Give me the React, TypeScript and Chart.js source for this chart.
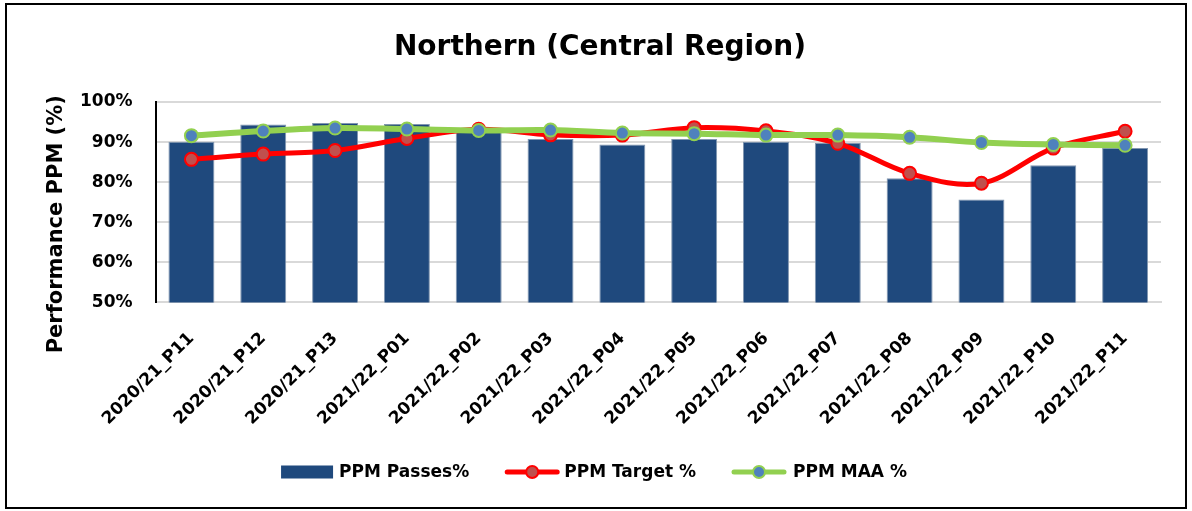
import React, { useEffect, useRef } from "react";
import { Chart, registerables } from "chart.js";

Chart.register(...registerables);

const categories = [
  "2020/21_P11", "2020/21_P12", "2020/21_P13", "2021/22_P01", "2021/22_P02",
  "2021/22_P03", "2021/22_P04", "2021/22_P05", "2021/22_P06", "2021/22_P07",
  "2021/22_P08", "2021/22_P09", "2021/22_P10", "2021/22_P11",
];
const passes = [90.1, 94.4, 94.75, 94.5, 93.0, 90.8, 89.4, 90.8, 90.1, 89.8, 81.0, 75.7, 84.2, 88.5];
const target = [85.7, 87.0, 87.9, 90.9, 93.2, 91.8, 91.75, 93.6, 92.8, 89.7, 82.2, 79.75, 88.5, 92.7];
const maa = [91.6, 92.75, 93.5, 93.25, 92.9, 93.0, 92.25, 92.1, 91.75, 91.75, 91.2, 89.9, 89.4, 89.2];
const yTicks = [50, 60, 70, 80, 90, 100];
const yTitle = "Performance PPM (%)";
const chartTitle = "Northern (Central Region)";

const FONT = "'DejaVu Sans', 'Liberation Sans', sans-serif";
const BAR = "#1F497D";
const RED = "#FF0000";
const RED_FILL = "#C0504D";
const GREEN = "#92D050";
const BLUE_FILL = "#4F81BD";

function drawLineSymbol(g: CanvasRenderingContext2D, x: number, y: number, line: string, fill: string) {
  g.save();
  g.strokeStyle = line;
  g.lineWidth = 5;
  g.lineCap = "round";
  g.beginPath();
  g.moveTo(x + 3, y);
  g.lineTo(x + 53, y);
  g.stroke();
  g.beginPath();
  g.arc(x + 28, y, 6, 0, Math.PI * 2);
  g.fillStyle = fill;
  g.fill();
  g.lineWidth = 2;
  g.strokeStyle = line;
  g.stroke();
  g.restore();
}

const customPlugin = {
  id: "customDecor",
  afterDraw(chart: any) {
    const g: CanvasRenderingContext2D = chart.ctx;
    const area = chart.chartArea;
    // chart title
    g.save();
    g.font = `bold 28px ${FONT}`;
    g.fillStyle = "#000";
    g.textAlign = "center";
    g.textBaseline = "middle";
    g.fillText(chartTitle, 600, 48);
    g.restore();

    // y axis title
    g.save();
    g.font = `bold 21px ${FONT}`;
    g.fillStyle = "#000";
    g.textAlign = "center";
    g.textBaseline = "middle";
    g.translate(57, (area.top + area.bottom) / 2 + 22);
    g.rotate(-Math.PI / 2);
    g.fillText(yTitle, 0, 0);
    g.restore();

    // legend
    const ds = chart.data.datasets;
    g.save();
    g.font = `bold 17px ${FONT}`;
    g.textBaseline = "middle";
    g.textAlign = "left";
    const symW = [52, 56, 56];
    const gap = [6, 4, 6];
    const spacing = 35;
    const widths = ds.map((d: any, i: number) => symW[i] + gap[i] + g.measureText(d.label).width);
    const total = widths.reduce((a: number, b: number) => a + b, 0) + spacing * (ds.length - 1);
    let x = 594 - total / 2;
    const y = 472;
    ds.forEach((d: any, i: number) => {
      if (i === 0) {
        g.fillStyle = BAR;
        g.fillRect(x, y - 6.5, 52, 13);
      } else if (i === 1) {
        drawLineSymbol(g, x, y, RED, RED_FILL);
      } else {
        drawLineSymbol(g, x, y, GREEN, BLUE_FILL);
      }
      g.fillStyle = "#000";
      g.fillText(d.label, x + symW[i] + gap[i], y + 1);
      x += widths[i] + spacing;
    });
    g.restore();
  },
};

export default function App() {
  const ref = useRef<HTMLCanvasElement | null>(null);

  useEffect(() => {
    document.body.style.margin = "0";
    const ctx = ref.current!.getContext("2d")!;
    const chart = new Chart(ctx, {
      type: "bar",
      data: {
        labels: categories,
        datasets: [
          {
            type: "bar",
            label: "PPM Passes%",
            data: passes,
            backgroundColor: BAR,
            borderColor: "#8196B0",
            borderWidth: 1,
            barPercentage: 0.64,
            categoryPercentage: 1,
            order: 3,
          },
          {
            type: "line",
            label: "PPM Target %",
            data: target,
            borderColor: RED,
            borderWidth: 5,
            backgroundColor: RED_FILL,
            pointBackgroundColor: RED_FILL,
            pointBorderColor: RED,
            pointBorderWidth: 2,
            pointRadius: 6.5,
            tension: 0.35,
            order: 2,
          } as any,
          {
            type: "line",
            label: "PPM MAA %",
            data: maa,
            borderColor: GREEN,
            borderWidth: 6,
            backgroundColor: BLUE_FILL,
            pointBackgroundColor: BLUE_FILL,
            pointBorderColor: GREEN,
            pointBorderWidth: 2,
            pointRadius: 6.5,
            tension: 0.35,
            order: 1,
          } as any,
        ],
      },
      plugins: [customPlugin],
      options: {
        animation: false,
        responsive: false,
        layout: { padding: { left: 57, right: 31, top: 102, bottom: 64 } },
        plugins: {
          title: { display: false },
          legend: { display: false },
          tooltip: { enabled: false },
        },
        scales: {
          x: {
            grid: { display: false },
            border: { display: true, color: "#D9D9D9", width: 2 },
            ticks: {
              color: "#000",
              maxRotation: 45,
              minRotation: 45,
              autoSkip: false,
              padding: 18,
              font: { family: FONT, size: 17, weight: "bold" },
            },
          },
          y: {
            min: 50,
            max: 100,
            afterBuildTicks: (axis: any) => {
              axis.ticks = yTicks.map((v) => ({ value: v }));
            },
            grid: { color: "#D9D9D9", lineWidth: 2, drawTicks: false },
            border: { display: true, color: "#000", width: 2 },
            ticks: {
              color: "#000",
              padding: 23,
              callback: (v: any) => v + "%",
              font: { family: FONT, size: 17, weight: "bold" },
            },
          },
        },
      },
    });
    return () => chart.destroy();
  }, []);

  return (
    <div style={{ position: "relative", width: 1192, height: 511, background: "#fff" }}>
      <canvas ref={ref} width={1192} height={511} style={{ position: "absolute", left: 0, top: 0 }} />
      <div
        style={{
          position: "absolute",
          left: 5,
          top: 3,
          width: 1178,
          height: 502,
          border: "2px solid #000",
          pointerEvents: "none",
        }}
      />
    </div>
  );
}
